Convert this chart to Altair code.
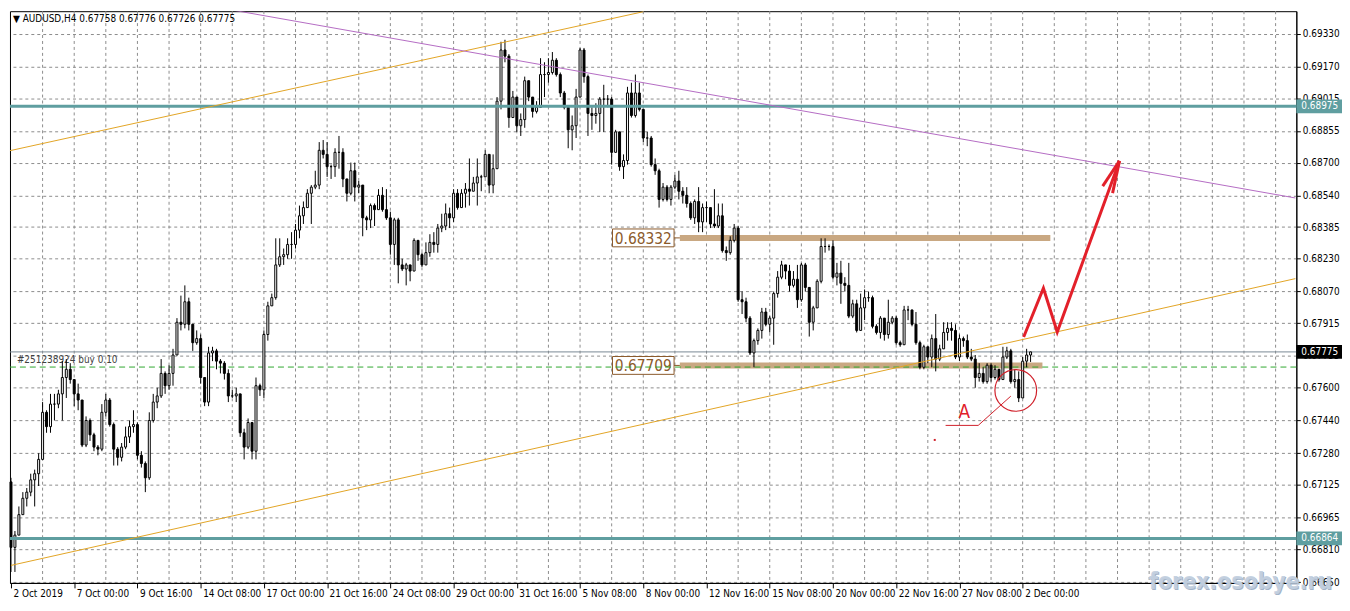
import altair as alt
import pandas as pd

FONT = "DejaVu Sans Condensed"
W, H = 1296, 576

# ---------------- data (AUDUSD H4, bar index 0 = 2 Oct 2019 08:00) ----------------
first_open = 0.6714
closes = [
 0.6682,0.6688,0.6698,0.6706,0.6709,0.6715,0.6718,0.6725,0.6748,0.6741,
 0.6752,0.6752,0.6757,0.6765,0.6769,0.6764,0.6757,0.6754,0.6732,0.6744,
 0.6737,0.6731,0.6730,0.6748,0.6754,0.6742,0.6730,0.6726,0.6731,0.6736,
 0.6741,0.6742,0.6727,0.6723,0.6716,0.6744,0.6753,0.6756,0.6767,0.6761,
 0.6767,0.6776,0.6792,0.6791,0.6802,0.6791,0.6782,0.6784,0.6765,0.6753,
 0.6777,0.6778,0.6773,0.6772,0.6767,0.6756,0.6756,0.6757,0.6738,0.6731,
 0.6743,0.6729,0.6761,0.6759,0.6786,0.6800,0.6804,0.6820,0.6824,0.6825,
 0.6830,0.6830,0.6837,0.6844,0.6848,0.6855,0.6858,0.6859,0.6876,0.6874,
 0.6868,0.6868,0.6875,0.6875,0.6862,0.6855,0.6866,0.6858,0.6859,0.6843,
 0.6842,0.6849,0.6847,0.6854,0.6847,0.6843,0.6830,0.6842,0.6820,0.6818,
 0.6820,0.6817,0.6832,0.6825,0.6820,0.6826,0.6831,0.6830,0.6838,0.6839,
 0.6845,0.6843,0.6855,0.6848,0.6855,0.6857,0.6856,0.6860,0.6863,0.6863,
 0.6874,0.6859,0.6867,0.6900,0.6925,0.6922,0.6892,0.6902,0.6888,0.6891,
 0.6910,0.6902,0.6895,0.6897,0.6913,0.6913,0.6914,0.6920,0.6913,0.6904,
 0.6897,0.6886,0.6888,0.6902,0.6925,0.6912,0.6894,0.6893,0.6894,0.6901,
 0.6901,0.6901,0.6875,0.6885,0.6868,0.6871,0.6904,0.6893,0.6904,0.6896,
 0.6882,0.6882,0.6869,0.6866,0.6852,0.6858,0.6852,0.6858,0.6861,0.6856,
 0.6854,0.6850,0.6843,0.6851,0.6841,0.6848,0.6848,0.6840,0.6839,0.6844,
 0.6827,0.6826,0.6832,0.6838,0.6803,0.6802,0.6794,0.6777,0.6783,0.6788,
 0.6797,0.6791,0.6794,0.6806,0.6814,0.6820,0.6817,0.6810,0.6813,0.6803,
 0.6820,0.6809,0.6792,0.6799,0.6812,0.6829,0.6829,0.6829,0.6814,0.6816,
 0.6811,0.6810,0.6795,0.6801,0.6788,0.6799,0.6804,0.6804,0.6790,0.6787,
 0.6794,0.6786,0.6792,0.6794,0.6782,0.6781,0.6798,0.6798,0.6791,0.6782,
 0.6770,0.6780,0.6775,0.6784,0.6774,0.6779,0.6787,0.6789,0.6788,0.6775,
 0.6784,0.6783,0.6775,0.6774,0.6765,0.6767,0.6763,0.6771,0.6765,0.6769,
 0.6764,0.6775,0.6778,0.6763,0.6764,0.6755,0.6773,0.6776,0.67775]
highs = [
 0.6716,0.6690,0.6702,0.6709,0.6711,0.6718,0.6720,0.6728,0.6753,0.6749,
 0.6757,0.6757,0.6759,0.6773,0.6774,0.6772,0.6763,0.6762,0.6752,0.6746,
 0.6745,0.6738,0.6732,0.6752,0.6757,0.6755,0.6743,0.6731,0.6733,0.6741,
 0.6744,0.6749,0.6743,0.6729,0.6724,0.6748,0.6757,0.6760,0.6774,0.6768,
 0.6771,0.6779,0.6794,0.6805,0.6810,0.6804,0.6791,0.6788,0.6786,0.6765,
 0.6780,0.6780,0.6779,0.6774,0.6773,0.6769,0.6759,0.6760,0.6756,0.6740,
 0.6745,0.6743,0.6765,0.6762,0.6788,0.6802,0.6806,0.6833,0.6833,0.6828,
 0.6833,0.6836,0.6840,0.6849,0.6851,0.6857,0.6859,0.6866,0.6880,0.6881,
 0.6880,0.6869,0.6877,0.6883,0.6877,0.6862,0.6870,0.6870,0.6861,0.6859,
 0.6844,0.6850,0.6850,0.6857,0.6858,0.6857,0.6846,0.6843,0.6843,0.6823,
 0.6821,0.6820,0.6833,0.6832,0.6826,0.6831,0.6835,0.6836,0.6840,0.6845,
 0.6850,0.6848,0.6857,0.6857,0.6857,0.6860,0.6872,0.6863,0.6872,0.6864,
 0.6876,0.6874,0.6874,0.6902,0.6929,0.6930,0.6923,0.6905,0.6902,0.6894,
 0.6912,0.6910,0.6902,0.6900,0.6921,0.6919,0.6921,0.6924,0.6921,0.6914,
 0.6905,0.6897,0.6893,0.6906,0.6926,0.6926,0.6913,0.6897,0.6899,0.6902,
 0.6908,0.6903,0.6902,0.6886,0.6884,0.6874,0.6907,0.6909,0.6913,0.6909,
 0.6896,0.6885,0.6883,0.6872,0.6867,0.6860,0.6859,0.6859,0.6864,0.6866,
 0.6858,0.6858,0.6851,0.6852,0.6858,0.6850,0.6851,0.6848,0.6857,0.6850,
 0.6850,0.6829,0.6834,0.6840,0.6839,0.6807,0.6804,0.6795,0.6784,0.6789,
 0.6799,0.6799,0.6795,0.6807,0.6817,0.6822,0.6820,0.6820,0.6817,0.6820,
 0.6821,0.6821,0.6807,0.6800,0.6813,0.6833,0.6833,0.6830,0.6832,0.6821,
 0.6822,0.6814,0.6821,0.6803,0.6803,0.6806,0.6808,0.6807,0.6805,0.6791,
 0.6795,0.6794,0.6803,0.6795,0.6795,0.6783,0.6800,0.6800,0.6798,0.6797,
 0.6783,0.6781,0.6779,0.6786,0.6796,0.6781,0.6792,0.6792,0.6792,0.6791,
 0.6786,0.6785,0.6786,0.6779,0.6776,0.6772,0.6770,0.6772,0.6772,0.6771,
 0.6769,0.6780,0.6780,0.6779,0.6769,0.6768,0.6775,0.6779,0.67776]
lows = [
 0.6670,0.6670,0.6688,0.6698,0.6702,0.6707,0.6702,0.6712,0.6725,0.6738,
 0.6738,0.6744,0.6750,0.6744,0.6755,0.6762,0.6751,0.6749,0.6731,0.6731,
 0.6734,0.6729,0.6727,0.6729,0.6746,0.6741,0.6722,0.6722,0.6724,0.6730,
 0.6733,0.6738,0.6725,0.6721,0.6709,0.6715,0.6743,0.6750,0.6755,0.6757,
 0.6759,0.6761,0.6776,0.6788,0.6789,0.6788,0.6778,0.6781,0.6762,0.6751,
 0.6751,0.6773,0.6769,0.6767,0.6764,0.6753,0.6755,0.6753,0.6736,0.6725,
 0.6730,0.6725,0.6725,0.6756,0.6755,0.6783,0.6800,0.6803,0.6819,0.6820,
 0.6823,0.6823,0.6828,0.6833,0.6840,0.6848,0.6840,0.6857,0.6857,0.6872,
 0.6863,0.6862,0.6863,0.6867,0.6858,0.6851,0.6854,0.6851,0.6855,0.6834,
 0.6837,0.6838,0.6839,0.6847,0.6846,0.6842,0.6825,0.6820,0.6811,0.6817,
 0.6810,0.6812,0.6817,0.6822,0.6819,0.6820,0.6824,0.6826,0.6826,0.6836,
 0.6837,0.6838,0.6841,0.6847,0.6848,0.6848,0.6849,0.6856,0.6849,0.6856,
 0.6863,0.6855,0.6855,0.6867,0.6896,0.6919,0.6887,0.6892,0.6885,0.6883,
 0.6887,0.6900,0.6892,0.6894,0.6897,0.6902,0.6909,0.6913,0.6912,0.6902,
 0.6896,0.6877,0.6876,0.6882,0.6902,0.6909,0.6883,0.6886,0.6889,0.6885,
 0.6885,0.6897,0.6869,0.6875,0.6866,0.6862,0.6869,0.6892,0.6892,0.6895,
 0.6880,0.6878,0.6868,0.6864,0.6848,0.6851,0.6851,0.6849,0.6857,0.6852,
 0.6850,0.6848,0.6842,0.6840,0.6836,0.6836,0.6841,0.6838,0.6838,0.6838,
 0.6826,0.6822,0.6825,0.6831,0.6802,0.6796,0.6792,0.6776,0.6770,0.6781,
 0.6784,0.6790,0.6787,0.6781,0.6804,0.6813,0.6813,0.6807,0.6809,0.6799,
 0.6802,0.6807,0.6785,0.6788,0.6800,0.6811,0.6826,0.6827,0.6813,0.6810,
 0.6801,0.6807,0.6794,0.6794,0.6787,0.6788,0.6793,0.6802,0.6789,0.6786,
 0.6784,0.6783,0.6784,0.6791,0.6781,0.6780,0.6788,0.6793,0.6790,0.6781,
 0.6769,0.6769,0.6772,0.6770,0.6768,0.6773,0.6779,0.6783,0.6783,0.6774,
 0.6773,0.6780,0.6774,0.6773,0.6760,0.6763,0.6762,0.6762,0.6763,0.6764,
 0.6763,0.6765,0.6774,0.6762,0.6760,0.6753,0.6760,0.6770,0.67726]

# x axis labels (one every 16 bars)
label_bars = [0, 16, 32, 48, 64, 80, 96, 112, 128, 144, 160, 176, 192, 208, 224, 240, 256]
label_texts = ["2 Oct 2019", "7 Oct 00:00", "9 Oct 16:00", "14 Oct 08:00", "17 Oct 00:00",
               "21 Oct 16:00", "24 Oct 08:00", "29 Oct 00:00", "31 Oct 16:00", "5 Nov 08:00",
               "8 Nov 00:00", "12 Nov 16:00", "15 Nov 08:00", "20 Nov 00:00", "22 Nov 16:00",
               "27 Nov 08:00", "2 Dec 00:00"]
grid_bars = list(range(8, 325, 8))
price_ticks = [0.69330, 0.69170, 0.69015, 0.68855, 0.68700, 0.68540, 0.68385, 0.68230,
               0.68070, 0.67915, 0.67755, 0.67600, 0.67440, 0.67280, 0.67125, 0.66965,
               0.66810, 0.66650]

# horizontal levels
teal_levels = [0.68975, 0.66864]
current_price = 0.67775
order_price = 0.67701
tan_levels = [0.68332, 0.67709]
tan_start = [169.25, 169.25]
tan_end = [263.0, 261.0]
tan_label_bar = [160.0, 160.0]

# trend lines: (bar, price) anchor points
upper_orange_bars = [-0.75, 160.0]
upper_orange_prices = [0.68756, 0.69437]
lower_orange_bars = [0.0, 325.0]
lower_orange_prices = [0.66732, 0.68133]
purple_bars = [55.75, 325.0]
purple_prices = [0.69446, 0.68527]

# red forecast arrow
arrow_bars = [256.25, 261.25, 264.75, 280.5]
arrow_prices = [0.67848, 0.68086, 0.67872, 0.68708]
barb_bars = [276.25, 278.75]
barb_prices = [0.68585, 0.68551]

# "A" annotation
a_line_bars = [236.5, 244.75, 253.0]
a_line_prices = [0.67416, 0.67416, 0.67559]
circle_bar, circle_price = 254.25, 0.67587
a_text_bar, a_text_price = 241.25, 0.67482
dot_bar, dot_price = 233.75, 0.67345

title_text = "\u25bc AUDUSD,H4 0.67758 0.67776 0.67726 0.67775"
order_text = "#251238924 buy 0.10"
watermark_text = "forex.osobye.ru"

# ---------------- build ----------------
opens = [first_open] + closes[:-1]
n = len(closes)
df = pd.DataFrame({"bar": list(range(n)), "open": opens, "close": closes,
                   "high": highs, "low": lows})
df["high"] = df[["high", "open", "close"]].max(axis=1)
df["low"] = df[["low", "open", "close"]].min(axis=1)

xs = alt.Scale(domain=[-0.25, 325.25], nice=False, zero=False, padding=0)
ys = alt.Scale(domain=[0.666465, 0.694395], nice=False, zero=False, padding=0)

label_expr = "[" + ",".join("'" + t + "'" for t in label_texts) + "][round(datum.value/16)]"
xaxis = alt.Axis(values=label_bars, labelExpr=label_expr, labelAlign="left", labelOffset=2,
                 labelPadding=1, tickSize=5, tickColor="black", domainColor="black",
                 grid=False, labelFont=FONT, labelFontSize=10, labelColor="black",
                 labelOverlap=False, labelFlush=False, title=None)
yaxis = alt.Axis(orient="right", values=price_ticks, format=".5f", grid=True,
                 gridDash=[3, 3], gridColor="#8c8c8c", gridOpacity=1, tickSize=4,
                 tickColor="black", domainColor="black", labelFont=FONT, labelFontSize=10,
                 labelColor="black", labelPadding=2, labelOverlap=False, labelFlush=False,
                 title=None)


def X(f):
    return alt.X(f, type="quantitative", scale=xs, axis=xaxis, title=None)


def Y(f):
    return alt.Y(f, type="quantitative", scale=ys, axis=yaxis, title=None)


layers = []

# vertical grid
layers.append(alt.Chart(pd.DataFrame({"g": grid_bars})).mark_rule(
    color="#8c8c8c", strokeDash=[3, 3], strokeWidth=1).encode(
    x=X("g"), y=alt.value(0), y2=alt.value(H)))

# tan support/resistance bars
tan_df = pd.DataFrame({"lvl": tan_levels, "x0": tan_start, "x1": tan_end,
                       "lb": tan_label_bar, "txt": [f"{v:.5f}" for v in tan_levels],
                       "c0": [167.75, 167.75]})
layers.append(alt.Chart(tan_df).mark_rule(color="#c9a882", strokeWidth=6).encode(
    x=X("x0"), x2="x1:Q", y=Y("lvl")))
layers.append(alt.Chart(tan_df).mark_rule(color="#8b5a2b", strokeWidth=1).encode(
    x=X("c0"), x2="x0:Q", y=Y("lvl")))
layers.append(alt.Chart(tan_df).mark_point(
    shape="M-1,-0.29H1V0.29H-1Z", size=3844, filled=True, fill="white",
    stroke="#8b5a2b", strokeWidth=1, opacity=1).encode(x=X("lb"), y=Y("lvl")))
layers.append(alt.Chart(tan_df).mark_text(
    font=FONT, fontSize=15.5, color="#8b5a2b", align="center", baseline="middle", dy=1).encode(
    x=X("lb"), y=Y("lvl"), text="txt:N"))

# order line
layers.append(alt.Chart(pd.DataFrame({"p": [order_price]})).mark_rule(
    color="#2fa82f", strokeDash=[6, 4], strokeWidth=1).encode(
    y=Y("p"), x=alt.value(0), x2=alt.value(W)))
layers.append(alt.Chart(pd.DataFrame({"p": [order_price], "b": [1.5], "t": [order_text]})).mark_text(
    font=FONT, fontSize=10, color="#404040", align="left", baseline="bottom", dy=-2).encode(
    x=X("b"), y=Y("p"), text="t:N"))

# current price line
layers.append(alt.Chart(pd.DataFrame({"p": [current_price]})).mark_rule(
    color="#7a8894", strokeWidth=1).encode(y=Y("p"), x=alt.value(0), x2=alt.value(W)))

# candles
base = alt.Chart(df)
layers.append(base.mark_rule(color="black", strokeWidth=1).encode(
    x=X("bar"), y=Y("low"), y2="high:Q"))
layers.append(base.mark_bar(size=2, stroke="black", strokeWidth=1).encode(
    x=X("bar"), y=Y("open"), y2="close:Q",
    fill=alt.condition("datum.close >= datum.open", alt.value("white"), alt.value("black"))))

# teal levels
layers.append(alt.Chart(pd.DataFrame({"p": teal_levels})).mark_rule(
    color="#5f9ea0", strokeWidth=3).encode(y=Y("p"), x=alt.value(0), x2=alt.value(W)))

# trend lines
for bars_, prices_, col in [(upper_orange_bars, upper_orange_prices, "#e2a424"),
                            (lower_orange_bars, lower_orange_prices, "#e2a424"),
                            (purple_bars, purple_prices, "#b46cc4")]:
    layers.append(alt.Chart(pd.DataFrame({"b": bars_, "p": prices_})).mark_line(
        color=col, strokeWidth=1, clip=True).encode(x=X("b"), y=Y("p")))

# red forecast arrow
arrow_df = pd.DataFrame({"b": arrow_bars, "p": arrow_prices, "o": list(range(len(arrow_bars)))})
layers.append(alt.Chart(arrow_df).mark_line(color="#e3202a", strokeWidth=3, strokeJoin="miter").encode(
    x=X("b"), y=Y("p"), order="o:Q"))
barb_df = pd.DataFrame({"b": barb_bars, "p": barb_prices,
                        "tb": [arrow_bars[-1]] * 2, "tp": [arrow_prices[-1]] * 2})
layers.append(alt.Chart(barb_df).mark_rule(color="#e3202a", strokeWidth=3).encode(
    x=X("b"), y=Y("p"), x2="tb:Q", y2="tp:Q"))

# "A" annotation
aline_df = pd.DataFrame({"b": a_line_bars, "p": a_line_prices, "o": [0, 1, 2]})
layers.append(alt.Chart(aline_df).mark_line(color="#d0202a", strokeWidth=1).encode(
    x=X("b"), y=Y("p"), order="o:Q"))
layers.append(alt.Chart(pd.DataFrame({"b": [circle_bar], "p": [circle_price]})).mark_point(
    shape="circle", size=1764, filled=False, color="#d0202a", strokeWidth=1.2, opacity=1).encode(
    x=X("b"), y=Y("p")))
layers.append(alt.Chart(pd.DataFrame({"b": [dot_bar], "p": [dot_price]})).mark_point(
    shape="square", size=4, filled=True, color="#d0202a", opacity=1).encode(x=X("b"), y=Y("p")))
layers.append(alt.Chart(pd.DataFrame({"b": [a_text_bar], "p": [a_text_price], "t": ["A"]})).mark_text(
    font=FONT, fontSize=19, color="#e0202a", align="center", baseline="middle").encode(
    x=X("b"), y=Y("p"), text="t:N"))

# title
layers.append(alt.Chart(pd.DataFrame({"t": [title_text]})).mark_text(
    font=FONT, fontSize=10, color="black", align="left", baseline="top").encode(
    x=alt.value(3), y=alt.value(3), text="t:N"))

# price tags on the right axis
tag_df = pd.DataFrame({"p": teal_levels + [current_price],
                       "bg": ["#5f9ea0", "#5f9ea0", "#000000"],
                       "t": [f"{v:.5f}" for v in teal_levels + [current_price]]})
layers.append(alt.Chart(tag_df).mark_point(
    shape="M-1,-0.3H1V0.3H-1Z", size=2116, filled=True, opacity=1).encode(
    x=alt.value(W + 23), y=Y("p"), fill=alt.Fill("bg:N", scale=None)))
layers.append(alt.Chart(tag_df).mark_text(
    font=FONT, fontSize=10, color="white", align="left", baseline="middle").encode(
    x=alt.value(W + 5), y=Y("p"), text="t:N"))

# watermark (kept inside the page width)
wm = pd.DataFrame({"t": [watermark_text]})
layers.append(alt.Chart(wm).mark_text(
    font=FONT, fontSize=23, fontWeight="bold", color="#8ea2bb", align="right",
    baseline="alphabetic", opacity=0.8).encode(x=alt.value(1333), y=alt.value(583), text="t:N"))
layers.append(alt.Chart(wm).mark_text(
    font=FONT, fontSize=23, fontWeight="bold", color="#c3d0e0", align="right",
    baseline="alphabetic", opacity=0.95).encode(x=alt.value(1332), y=alt.value(582), text="t:N"))

chart = alt.layer(*layers).properties(
    width=W, height=H, padding={"left": 0, "top": 0, "right": 0, "bottom": 0}
).configure_view(stroke="black", strokeWidth=1)

chart.save("out.html", embed_options={"renderer": "svg", "actions": False})
